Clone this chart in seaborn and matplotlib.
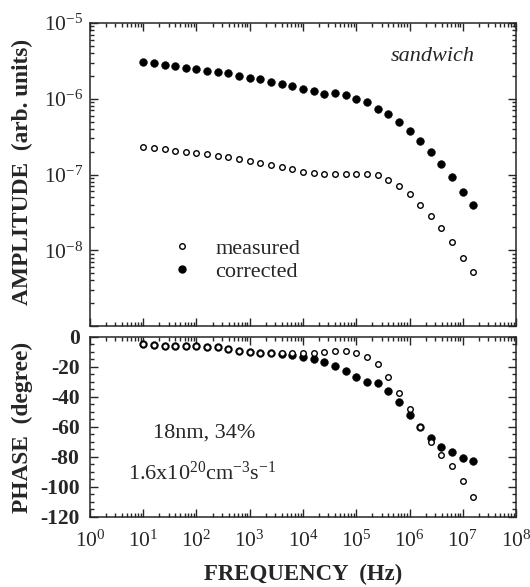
import matplotlib
matplotlib.use("Agg")
import matplotlib.pyplot as plt
import matplotlib.ticker as mticker
from matplotlib.lines import Line2D
import numpy as np
import pandas as pd
import seaborn as sns

# Modulation frequency (Hz)
freq = [1.0e1, 1.58e1, 2.51e1, 3.98e1, 6.31e1, 1.0e2, 1.58e2, 2.51e2, 3.98e2, 6.31e2,
        1.0e3, 1.58e3, 2.51e3, 3.98e3, 6.31e3, 1.0e4, 1.58e4, 2.51e4, 3.98e4, 6.31e4,
        1.0e5, 1.58e5, 2.51e5, 3.98e5, 6.31e5, 1.0e6, 1.58e6, 2.51e6, 3.98e6, 6.31e6,
        1.0e7, 1.58e7]

# Amplitude (arb. units)
amp_measured = [2.31e-7, 2.27e-7, 2.18e-7, 2.07e-7, 2.00e-7, 1.91e-7, 1.85e-7, 1.78e-7,
                1.72e-7, 1.62e-7, 1.53e-7, 1.44e-7, 1.35e-7, 1.27e-7, 1.19e-7, 1.09e-7,
                1.04e-7, 1.02e-7, 1.03e-7, 1.03e-7, 1.03e-7, 1.02e-7, 9.8e-8, 8.5e-8,
                7.1e-8, 5.5e-8, 4.0e-8, 2.87e-8, 1.97e-8, 1.30e-8, 8.0e-9, 5.1e-9]
amp_corrected = [3.03e-6, 2.94e-6, 2.82e-6, 2.68e-6, 2.55e-6, 2.45e-6, 2.33e-6, 2.24e-6,
                 2.17e-6, 2.02e-6, 1.90e-6, 1.81e-6, 1.67e-6, 1.57e-6, 1.46e-6, 1.35e-6,
                 1.28e-6, 1.17e-6, 1.19e-6, 1.12e-6, 9.9e-7, 9.0e-7, 7.4e-7, 6.2e-7,
                 4.9e-7, 3.8e-7, 2.77e-7, 1.99e-7, 1.39e-7, 9.4e-8, 5.9e-8, 4.0e-8]

# Phase (degree)
phase_measured = [-4.7, -5.3, -5.8, -5.8, -5.8, -6.2, -6.4, -6.9, -7.8, -9.1, -10.0,
                  -10.4, -10.9, -10.9, -10.4, -10.6, -10.9, -10.2, -9.6, -9.1, -10.9,
                  -13.6, -18.0, -26.4, -37.1, -48.2, -60.0, -70.2, -78.7, -86.0,
                  -95.8, -106.7]
phase_corrected = [-4.7, -5.3, -5.8, -5.8, -5.8, -6.2, -6.4, -6.9, -7.8, -9.1, -10.0,
                   -10.4, -10.9, -11.3, -12.0, -13.6, -14.9, -16.4, -19.1, -22.4, -26.9,
                   -29.8, -30.9, -35.8, -43.1, -52.0, -60.0, -67.6, -73.1, -76.7,
                   -80.4, -82.4]

series_labels = ["measured", "corrected"]
x_decades = list(range(0, 9))
amp_decades = [-9, -8, -7, -6, -5]
phase_ticks = [0, -20, -40, -60, -80, -100, -120]

sns.set_style("ticks")
plt.rcParams["font.family"] = ["Liberation Serif", "DejaVu Serif"]
plt.rcParams["mathtext.fontset"] = "custom"
plt.rcParams["mathtext.rm"] = "Liberation Serif"
plt.rcParams["mathtext.it"] = "Liberation Serif:italic"
plt.rcParams["mathtext.bf"] = "Liberation Serif:bold"
plt.rcParams["axes.unicode_minus"] = False
plt.rcParams["axes.linewidth"] = 1.1

df = pd.DataFrame({
    "freq": freq * 2,
    "amp": amp_measured + amp_corrected,
    "phase": phase_measured + phase_corrected,
    "kind": [series_labels[0]] * len(freq) + [series_labels[1]] * len(freq),
})
meas = df[df["kind"] == "measured"]
corr = df[df["kind"] == "corrected"]

fig = plt.figure(figsize=(5.30, 5.87), dpi=100)
ax1 = fig.add_axes([0.1698, 0.4446, 0.8038, 0.5162])
ax2 = fig.add_axes([0.1698, 0.1193, 0.8038, 0.3066])

open_kw = dict(marker="o", s=16, facecolor="white", edgecolor="black", linewidth=1.0, zorder=3)
fill_kw = dict(marker="o", s=32, color="black", edgecolor="black", linewidth=0.3, zorder=3)

sns.scatterplot(data=corr, x="freq", y="amp", ax=ax1, legend=False, **fill_kw)
sns.scatterplot(data=meas, x="freq", y="amp", ax=ax1, legend=False, **open_kw)
sns.scatterplot(data=corr, x="freq", y="phase", ax=ax2, legend=False, **fill_kw)
sns.scatterplot(data=meas, x="freq", y="phase", ax=ax2, legend=False, **open_kw)

for ax in (ax1, ax2):
    ax.set_xscale("log")
    ax.set_xlim(10.0 ** x_decades[0], 10.0 ** x_decades[-1])
    ax.xaxis.set_major_locator(mticker.FixedLocator([10.0 ** d for d in x_decades]))
    ax.xaxis.set_minor_locator(mticker.LogLocator(base=10, subs=np.arange(2, 10), numticks=50))
    ax.tick_params(which="both", direction="in", top=True, right=True, width=1.0)
    ax.tick_params(which="major", length=6)
    ax.tick_params(which="minor", length=3.2)
    ax.set_xlabel("")
    ax.set_ylabel("")

ax1.tick_params(axis="x", which="both", labelbottom=False)
ax2.xaxis.set_major_formatter(mticker.FuncFormatter(
    lambda v, p: r"$\mathregular{10^{%d}}$" % round(np.log10(v))))
ax2.tick_params(axis="x", labelsize=15.5, pad=9.5)

ax1.set_yscale("log")
ax1.set_ylim(10.0 ** amp_decades[0], 10.0 ** amp_decades[-1])
ax1.yaxis.set_major_locator(mticker.FixedLocator([10.0 ** d for d in amp_decades]))
ax1.yaxis.set_minor_locator(mticker.LogLocator(base=10, subs=np.arange(2, 10), numticks=50))
ax1.yaxis.set_major_formatter(mticker.FuncFormatter(
    lambda v, p: "" if round(np.log10(v)) == amp_decades[0]
    else r"$\mathregular{10^{%d}}$" % round(np.log10(v))))
ax1.tick_params(axis="y", labelsize=15.5, pad=5)

ax2.set_ylim(phase_ticks[-1], phase_ticks[0])
ax2.yaxis.set_major_locator(mticker.FixedLocator(phase_ticks))
ax2.yaxis.set_minor_locator(mticker.MultipleLocator(5))
ax2.tick_params(axis="y", labelsize=15.5, pad=7.5)
for lab in ax2.get_yticklabels():
    lab.set_fontweight("bold")

ax1.set_ylabel("AMPLITUDE  (arb. units)", fontsize=16.8, fontweight="bold")
ax2.set_ylabel("PHASE  (degree)", fontsize=16.8, fontweight="bold")
ax1.yaxis.set_label_coords(-0.134, 0.51)
ax2.yaxis.set_label_coords(-0.134, 0.5)
ax2.set_xlabel("FREQUENCY  (Hz)", fontsize=16.5, fontweight="bold")
ax2.xaxis.set_label_coords(0.5, -0.26)

ax1.text(0.904, 0.876, "sandwich", transform=ax1.transAxes, ha="right", va="baseline",
         fontsize=16, style="italic")

handles = [
    Line2D([], [], linestyle="none", marker="o", markersize=4.0, markerfacecolor="white",
           markeredgecolor="black", markeredgewidth=1.0),
    Line2D([], [], linestyle="none", marker="o", markersize=5.0, markerfacecolor="black",
           markeredgecolor="black"),
]
ax1.legend(handles, series_labels, loc="center left", bbox_to_anchor=(0.19, 0.218),
           frameon=False, fontsize=16, handlelength=1.0, handletextpad=1.0,
           labelspacing=0.1, borderpad=0, borderaxespad=0)

ax2.text(0.269, 0.443, "18nm, 34%", transform=ax2.transAxes, ha="center", va="baseline",
         fontsize=16)
ax2.text(0.264, 0.206, r"1.6x10$^{\mathregular{20}}$cm$^{\mathregular{-3}}$s$^{\mathregular{-1}}$",
         transform=ax2.transAxes, ha="center", va="baseline", fontsize=16)

fig.savefig("out.png", dpi=100)
